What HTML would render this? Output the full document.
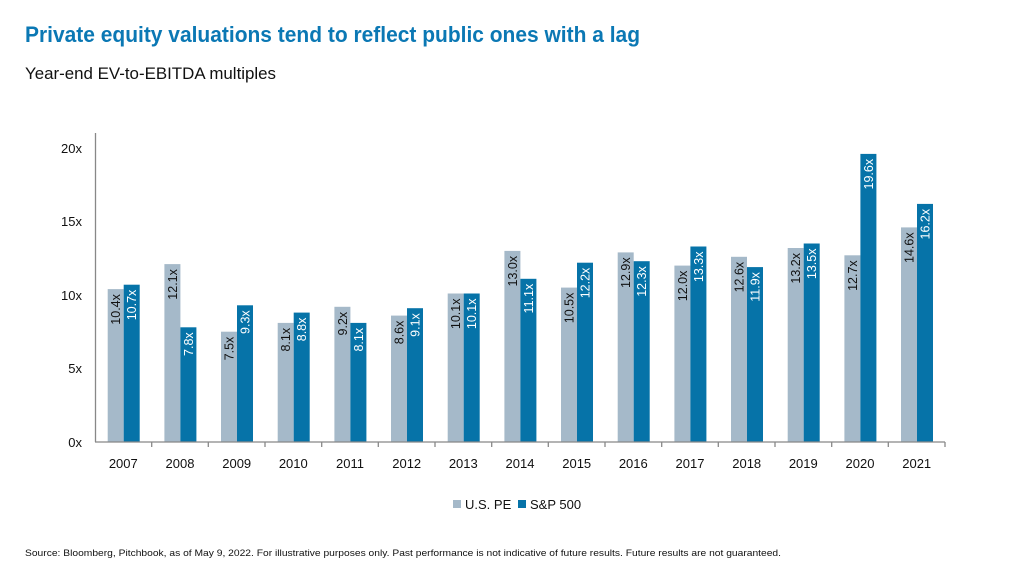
<!DOCTYPE html>
<html><head><meta charset="utf-8"><style>
body{margin:0;background:#fff}
svg{display:block;font-family:"Liberation Sans",sans-serif}
.l{font-size:12.5px;text-anchor:end}
.w{fill:#fff}
</style></head><body>
<svg width="1024" height="576" viewBox="0 0 1024 576">
<text x="25" y="42" font-size="22" font-weight="bold" fill="#0b78b4" textLength="615" lengthAdjust="spacingAndGlyphs">Private equity valuations tend to reflect public ones with a lag</text>
<text x="25" y="79" font-size="16.5" fill="#111" textLength="251" lengthAdjust="spacingAndGlyphs">Year-end EV-to-EBITDA multiples</text>
<g font-size="13" fill="#111" text-anchor="end">
<text x="82" y="447">0x</text><text x="82" y="373">5x</text><text x="82" y="300">10x</text><text x="82" y="226">15x</text><text x="82" y="153">20x</text>
</g>
<g fill="#a5b9c9">
<rect x="107.7" y="289.1" width="16" height="152.9"/><rect x="164.4" y="264.1" width="16" height="177.9"/><rect x="221" y="331.7" width="16" height="110.3"/><rect x="277.7" y="322.9" width="16" height="119.1"/><rect x="334.4" y="306.8" width="16" height="135.2"/><rect x="391" y="315.6" width="16" height="126.4"/><rect x="447.7" y="293.5" width="16" height="148.5"/><rect x="504.4" y="250.9" width="16" height="191.1"/><rect x="561" y="287.6" width="16" height="154.4"/><rect x="617.7" y="252.4" width="16" height="189.6"/><rect x="674.4" y="265.6" width="16" height="176.4"/><rect x="731" y="256.8" width="16" height="185.2"/><rect x="787.7" y="248" width="16" height="194"/><rect x="844.4" y="255.3" width="16" height="186.7"/><rect x="901" y="227.4" width="16" height="214.6"/>
</g>
<g fill="#0673a8">
<rect x="123.7" y="284.7" width="16" height="157.3"/><rect x="180.4" y="327.3" width="16" height="114.7"/><rect x="237" y="305.3" width="16" height="136.7"/><rect x="293.7" y="312.6" width="16" height="129.4"/><rect x="350.4" y="322.9" width="16" height="119.1"/><rect x="407" y="308.2" width="16" height="133.8"/><rect x="463.7" y="293.5" width="16" height="148.5"/><rect x="520.4" y="278.8" width="16" height="163.2"/><rect x="577" y="262.7" width="16" height="179.3"/><rect x="633.7" y="261.2" width="16" height="180.8"/><rect x="690.4" y="246.5" width="16" height="195.5"/><rect x="747" y="267.1" width="16" height="174.9"/><rect x="803.7" y="243.5" width="16" height="198.5"/><rect x="860.4" y="153.9" width="16" height="288.1"/><rect x="917" y="203.9" width="16" height="238.1"/>
</g>
<g class="l" fill="#111">
<text class="l" transform="translate(120.2,294.1) rotate(-90)">10.4x</text>
<text class="l" transform="translate(176.9,269.1) rotate(-90)">12.1x</text>
<text class="l" transform="translate(233.5,336.7) rotate(-90)">7.5x</text>
<text class="l" transform="translate(290.2,327.9) rotate(-90)">8.1x</text>
<text class="l" transform="translate(346.9,311.8) rotate(-90)">9.2x</text>
<text class="l" transform="translate(403.5,320.6) rotate(-90)">8.6x</text>
<text class="l" transform="translate(460.2,298.5) rotate(-90)">10.1x</text>
<text class="l" transform="translate(516.9,255.9) rotate(-90)">13.0x</text>
<text class="l" transform="translate(573.5,292.6) rotate(-90)">10.5x</text>
<text class="l" transform="translate(630.2,257.4) rotate(-90)">12.9x</text>
<text class="l" transform="translate(686.9,270.6) rotate(-90)">12.0x</text>
<text class="l" transform="translate(743.5,261.8) rotate(-90)">12.6x</text>
<text class="l" transform="translate(800.2,253) rotate(-90)">13.2x</text>
<text class="l" transform="translate(856.9,260.3) rotate(-90)">12.7x</text>
<text class="l" transform="translate(913.5,232.4) rotate(-90)">14.6x</text>
</g>
<g fill="#fff">
<text class="l" transform="translate(136.2,289.7) rotate(-90)">10.7x</text>
<text class="l" transform="translate(192.9,332.3) rotate(-90)">7.8x</text>
<text class="l" transform="translate(249.5,310.3) rotate(-90)">9.3x</text>
<text class="l" transform="translate(306.2,317.6) rotate(-90)">8.8x</text>
<text class="l" transform="translate(362.9,327.9) rotate(-90)">8.1x</text>
<text class="l" transform="translate(419.5,313.2) rotate(-90)">9.1x</text>
<text class="l" transform="translate(476.2,298.5) rotate(-90)">10.1x</text>
<text class="l" transform="translate(532.9,283.8) rotate(-90)">11.1x</text>
<text class="l" transform="translate(589.5,267.7) rotate(-90)">12.2x</text>
<text class="l" transform="translate(646.2,266.2) rotate(-90)">12.3x</text>
<text class="l" transform="translate(702.9,251.5) rotate(-90)">13.3x</text>
<text class="l" transform="translate(759.5,272.1) rotate(-90)">11.9x</text>
<text class="l" transform="translate(816.2,248.5) rotate(-90)">13.5x</text>
<text class="l" transform="translate(872.9,158.9) rotate(-90)">19.6x</text>
<text class="l" transform="translate(929.5,208.9) rotate(-90)">16.2x</text>
</g>
<g stroke="#888" stroke-width="1.3" fill="none">
<line x1="95.5" y1="133" x2="95.5" y2="442"/>
<line x1="95" y1="442" x2="945" y2="442"/>
<path d="M151.7 442v5M208.3 442v5M265 442v5M321.7 442v5M378.3 442v5M435 442v5M491.7 442v5M548.3 442v5M605 442v5M661.7 442v5M718.3 442v5M775 442v5M831.7 442v5M888.3 442v5M945 442v5"/>
</g>
<g font-size="13" fill="#111" text-anchor="middle">
<text x="123.3" y="468">2007</text><text x="180" y="468">2008</text><text x="236.7" y="468">2009</text><text x="293.3" y="468">2010</text><text x="350" y="468">2011</text><text x="406.7" y="468">2012</text><text x="463.3" y="468">2013</text><text x="520" y="468">2014</text><text x="576.7" y="468">2015</text><text x="633.3" y="468">2016</text><text x="690" y="468">2017</text><text x="746.7" y="468">2018</text><text x="803.3" y="468">2019</text><text x="860" y="468">2020</text><text x="916.7" y="468">2021</text>
</g>
<rect x="453" y="500" width="8" height="8" fill="#a5b9c9"/>
<text x="465" y="509" font-size="13" fill="#111">U.S. PE</text>
<rect x="518" y="500" width="8" height="8" fill="#0673a8"/>
<text x="530" y="509" font-size="13" fill="#111">S&amp;P 500</text>
<text x="25" y="556" font-size="9.5" fill="#111" textLength="756" lengthAdjust="spacingAndGlyphs">Source: Bloomberg, Pitchbook, as of May 9, 2022. For illustrative purposes only. Past performance is not indicative of future results. Future results are not guaranteed.</text>
</svg>
</body></html>
